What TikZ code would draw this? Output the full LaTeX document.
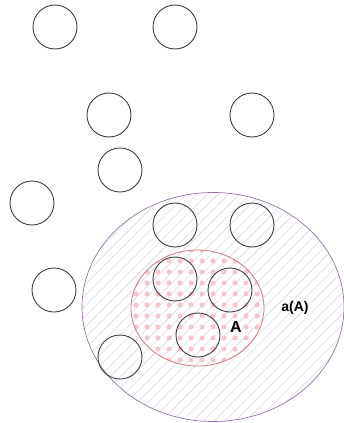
\documentclass[tikz,border=0pt]{standalone}
\usepackage{fontspec}
\setmainfont{Liberation Sans}
\usetikzlibrary{shapes.geometric,patterns.meta}
\definecolor{hullline}{HTML}{9673A6}
\definecolor{hullhatch}{HTML}{DCD6E5}
\definecolor{coreline}{HTML}{D07B7B}
\definecolor{coredots}{HTML}{F7C6CC}
\tikzset{
    ballnode/.style={draw=black!75, circle, line width=0.9pt, minimum size=44pt, inner sep=0pt},
    hullnode/.style={draw=hullline, ellipse, line width=0.7pt, minimum width=262pt, minimum height=229pt, inner sep=0pt,
        pattern={Lines[distance=7.5pt, angle=45, line width=0.6pt]}, pattern color=hullhatch},
    corenode/.style={draw=coreline, ellipse, line width=0.8pt, minimum width=133pt, minimum height=116pt, inner sep=0pt,
        pattern={Dots[distance=10.5pt, radius=2.7pt]}, pattern color=coredots},
    setlabel/.style={font=\bfseries\fontsize{14}{16}\selectfont, inner sep=1pt}
}
\begin{document}
\begin{tikzpicture}[x=1pt, y=-1pt]
    \useasboundingbox (0,0) rectangle (344,423);
    % hull and core sets
    \node[hullnode] (hull) at (213,307) {};
    \node[corenode] (core) at (197.5,308) {};
    \node[setlabel, font=\bfseries\fontsize{16}{18}\selectfont] (corelbl) at (236,327) {A};
    \node[setlabel] (hulllbl) at (295,308) {a(A)};
    % balls
    \foreach \bx/\by [count=\bi] in {55/27, 175/27, 109/115, 252/115, 120/170, 32/203, 54/290,
        175/225, 252/225, 175/279, 230/290, 198/335, 120/357}
        \node[ballnode] (ball\bi) at (\bx,\by) {};
\end{tikzpicture}
\end{document}
